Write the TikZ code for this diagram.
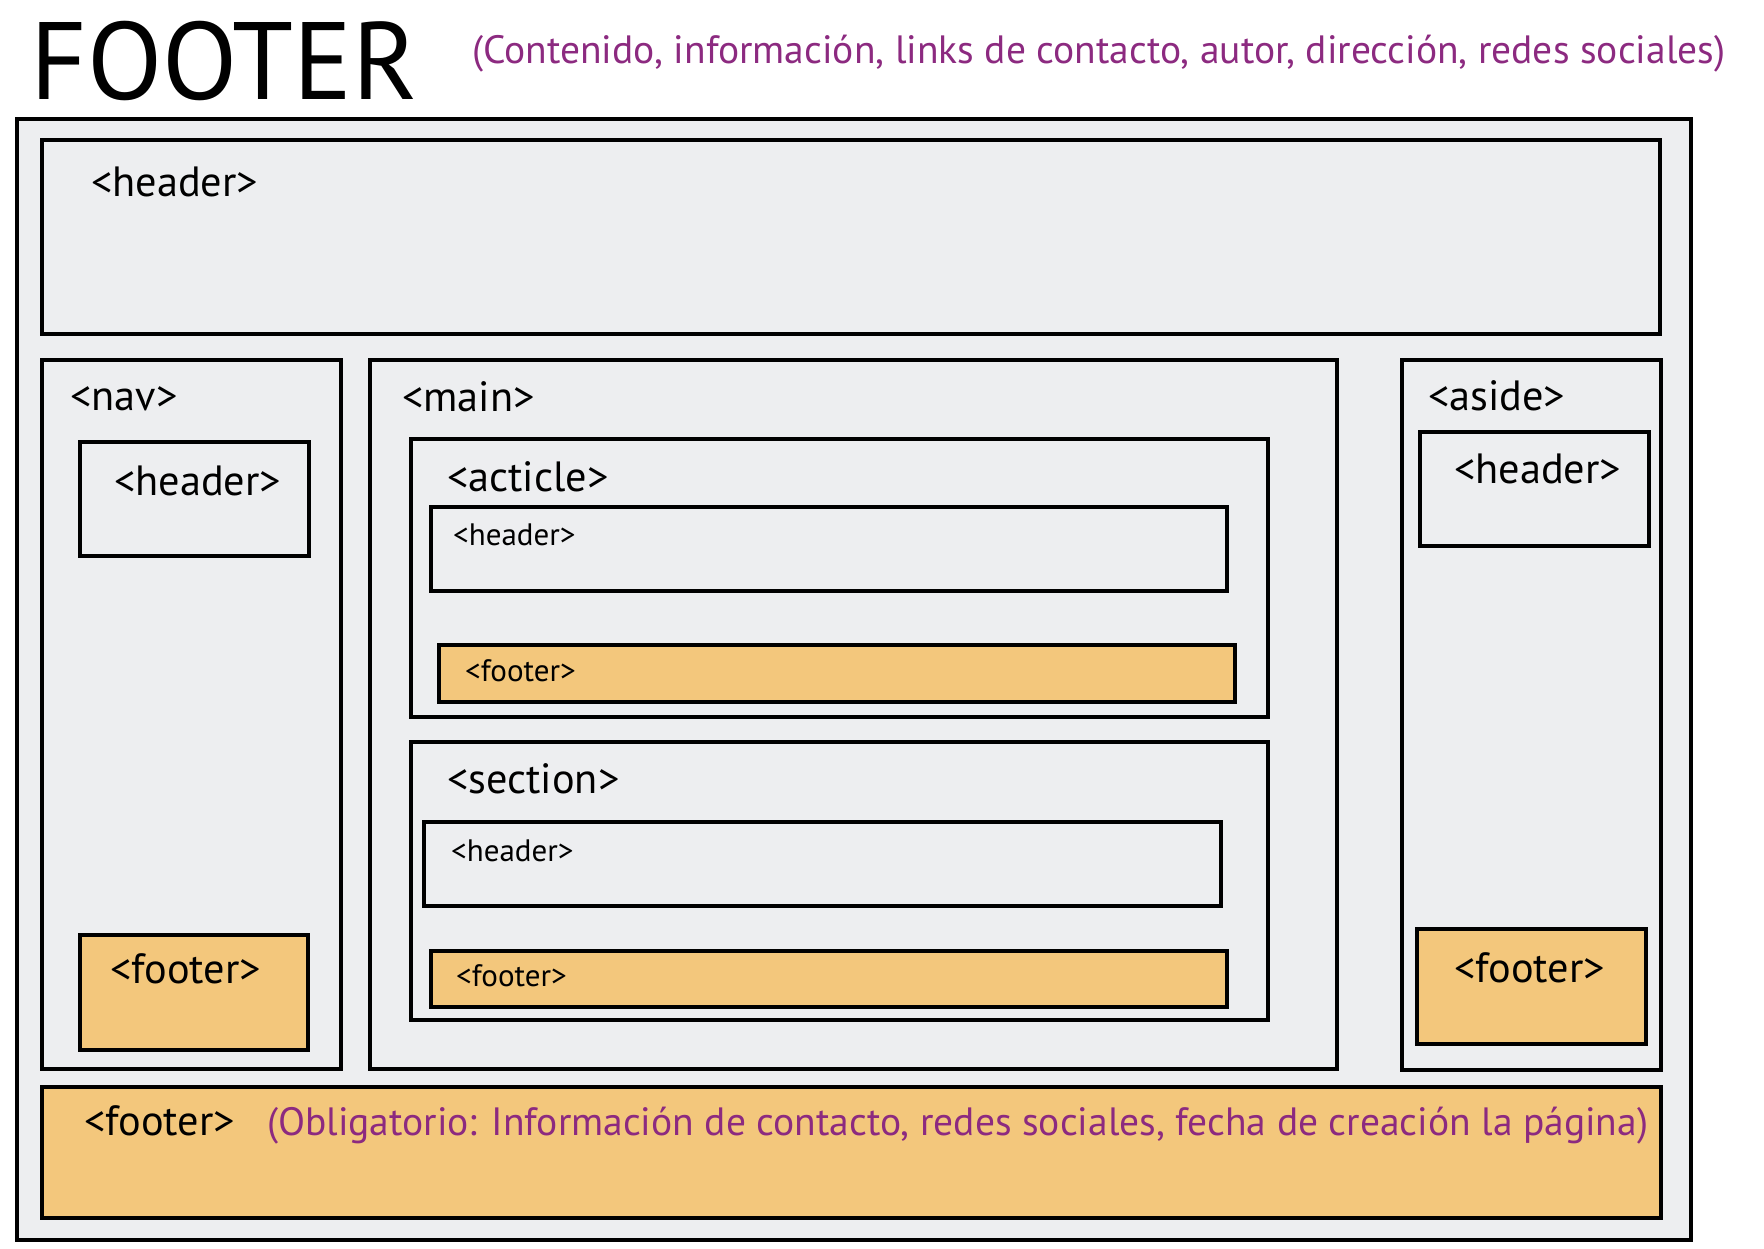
\documentclass[tikz,border=0pt]{standalone}
\usepackage{fontspec}
\setmainfont{PT Sans}
\usetikzlibrary{fit}
\definecolor{bggray}{HTML}{EDEEF0}
\definecolor{orng}{HTML}{F3C77C}
\definecolor{purp}{HTML}{8C2A80}
\tikzset{
  gbox/.style={draw=black, line width=4pt, fill=bggray, inner sep=0pt},
  obox/.style={draw=black, line width=4pt, fill=orng, inner sep=0pt},
  big/.style={anchor=base west, inner sep=0pt, font=\fontsize{42.3}{46}\selectfont},
  small/.style={anchor=base west, inner sep=0pt, font=\fontsize{31}{34}\selectfont},
  note/.style={anchor=base west, inner sep=0pt, text=purp, font=\fontsize{39.5}{42}\selectfont},
}
\begin{document}
\begin{tikzpicture}[x=1pt, y=-1pt]
\useasboundingbox (0,0) rectangle (1764,1248);
% outer
\node[gbox, fit={(17,119) (1691,1240)}] (outer) {};
% top header
\node[gbox, fit={(42,140) (1660,334)}] (hdr) {};
% nav
\node[gbox, fit={(42,360) (341,1069)}] (nav) {};
\node[gbox, fit={(80,442) (309,556)}] (navhdr) {};
\node[obox, fit={(80,935) (308,1050)}] (navftr) {};
% main
\node[gbox, fit={(370,360) (1337,1069)}] (main) {};
\node[gbox, fit={(411,439) (1268,717)}] (art) {};
\node[gbox, fit={(431,507) (1227,591)}] (arthdr) {};
\node[obox, fit={(439,645) (1235,702)}] (artftr) {};
\node[gbox, fit={(411,742) (1268,1020)}] (sec) {};
\node[gbox, fit={(424,822) (1221,906)}] (sechdr) {};
\node[obox, fit={(431,951) (1227,1007)}] (secftr) {};
% aside
\node[gbox, fit={(1402,360) (1661,1070)}] (aside) {};
\node[gbox, fit={(1420,432) (1649,546)}] (asdhdr) {};
\node[obox, fit={(1417,929) (1646,1044)}] (asdftr) {};
% bottom footer
\node[obox, fit={(42,1087) (1661,1218)}] (ftr) {};
% title texts
\node[anchor=base west, inner sep=0pt, font=\fontsize{110}{112}\selectfont] (title) at (30,99) {FOOTER};
\node[note] (tnote) at (472,63) {(Contenido, información, links de contacto, autor, dirección, redes sociales)};
% labels
\node[big] (lhdr) at (91,196) {<header>};
\node[big] (lnav) at (70,410) {<nav>};
\node[big] (lmain) at (402,411) {<main>};
\node[big] (laside) at (1428,410) {<aside>};
\node[big] (lnavhdr) at (114,495) {<header>};
\node[big] (lnavftr) at (110,983) {<footer>};
\node[big] (lart) at (447,491) {<acticle>};
\node[big] (lsec) at (447,793) {<section>};
\node[big] (lasdhdr) at (1454,483) {<header>};
\node[big] (lasdftr) at (1454,982) {<footer>};
\node[big] (lftr) at (84,1135) {<footer>};
\node[note] (fnote) at (267,1135) {(Obligatorio: Información de contacto, redes sociales, fecha de creación la página)};
\node[small] (larthdr) at (453,545) {<header>};
\node[small] (lartftr) at (465,681) {<footer>};
\node[small] (lsechdr) at (451,861) {<header>};
\node[small] (lsecftr) at (456,986) {<footer>};
\end{tikzpicture}
\end{document}
